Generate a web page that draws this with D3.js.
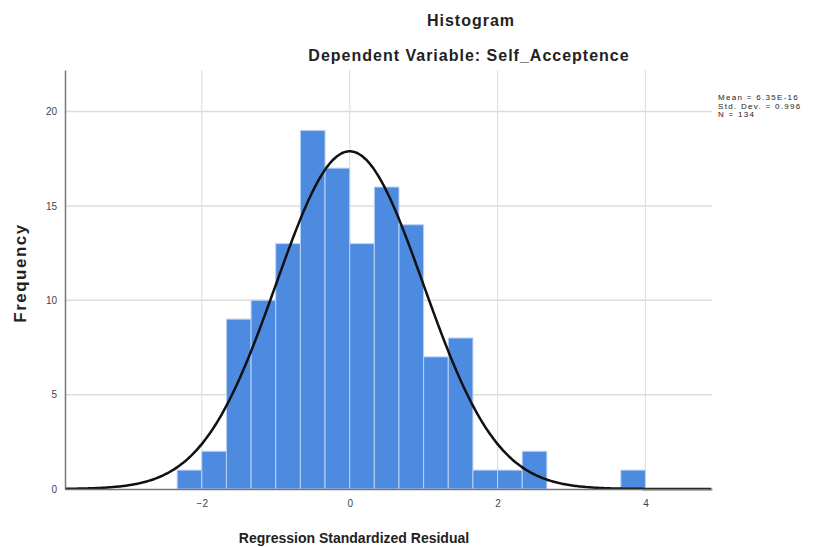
<!DOCTYPE html>
<html lang="en">
<head>
    <meta charset="UTF-8">
    <title>Histogram</title>
    <style>
        body{ margin: 0; background: #fff; }
        svg{ display: block; }
        text{ font-family: "Liberation Sans", Arial, sans-serif; fill: #222; }
        .tick text{ font-size: 10px; fill: #444; }
    </style>
    <script src="https://cdn.jsdelivr.net/npm/d3@7"></script>
</head>
<body>
<script>
    // histogram data: bin start (lower edge), bin width 1/3
    const binWidth = 1 / 3
    const binStarts = [-7, -6, -5, -4, -3, -2, -1, 0, 1, 2, 3, 4, 5, 6, 7, 8, 9, 10, 11].map(k => k / 3)
    const frequencies = [1, 2, 9, 10, 13, 19, 17, 13, 16, 14, 7, 8, 1, 1, 2, 0, 0, 0, 1]
    const xTicks = [-2, 0, 2, 4]
    const yTicks = [0, 5, 10, 15, 20]
    const stats = ["Mean = 6.35E-16", "Std. Dev. = 0.996", "N = 134"]
    const mean = 0, sd = 0.996, n = 134

    const width = 817
    const height = 547
    const svg = d3.select("body").append("svg")
        .attr("width", width).attr("height", height)

    const x = d3.scaleLinear().domain([-3.85, 4.9]).range([65, 712])
    const y = d3.scaleLinear().domain([0, 22.2]).range([489, 70])

    // grid lines
    svg.append("g").selectAll("line")
        .data(yTicks.filter(d => d > 0))
        .join("line")
        .attr("x1", x.range()[0]).attr("x2", x.range()[1])
        .attr("y1", d => y(d)).attr("y2", d => y(d))
        .attr("stroke", "#dcdcdc").attr("stroke-width", 1.5)
    svg.append("g").selectAll("line")
        .data(xTicks)
        .join("line")
        .attr("x1", d => x(d)).attr("x2", d => x(d))
        .attr("y1", y.range()[1]).attr("y2", y.range()[0])
        .attr("stroke", "#e0e0e0").attr("stroke-width", 1.2)

    // bars
    const bins = binStarts.map((s, i) => ({x0: s, x1: s + binWidth, f: frequencies[i]}))
    svg.append("g").selectAll("rect")
        .data(bins.filter(d => d.f > 0))
        .join("rect")
        .attr("x", d => x(d.x0))
        .attr("width", d => x(d.x1) - x(d.x0))
        .attr("y", d => y(d.f))
        .attr("height", d => y(0) - y(d.f))
        .attr("fill", "#4d8be0")
        .attr("stroke", "#b9d3f5").attr("stroke-width", 1)

    // normal curve
    const curvePts = d3.range(x.domain()[0], x.domain()[1] + 0.001, 0.02)
    const pdf = v => n * binWidth * Math.exp(-0.5 * ((v - mean) / sd) ** 2) / (sd * Math.sqrt(2 * Math.PI))
    svg.append("path")
        .datum(curvePts)
        .attr("fill", "none").attr("stroke", "#111").attr("stroke-width", 2.5)
        .attr("d", d3.line().x(d => x(d)).y(d => y(pdf(d))).curve(d3.curveBasis))

    // axes
    const xAxis = svg.append("g").attr("transform", `translate(0,${y(0)})`)
        .call(d3.axisBottom(x).tickValues(xTicks).tickSize(0).tickPadding(11).tickFormat(d3.format("d")))
    const yAxis = svg.append("g").attr("transform", `translate(${x.range()[0]},0)`)
        .call(d3.axisLeft(y).tickValues(yTicks).tickSize(0).tickPadding(8))
    xAxis.select(".domain").attr("stroke", "#777").attr("stroke-width", 1.5)
    yAxis.select(".domain").attr("stroke", "#777").attr("stroke-width", 1.5)

    // titles
    svg.append("text").attr("x", 471).attr("y", 26)
        .attr("text-anchor", "middle").attr("font-size", 16).attr("font-weight", "bold")
        .attr("letter-spacing", 1)
        .text("Histogram")
    svg.append("text").attr("x", 469).attr("y", 61)
        .attr("text-anchor", "middle").attr("font-size", 16).attr("font-weight", "bold")
        .attr("letter-spacing", 1)
        .text("Dependent Variable: Self_Acceptence")
    svg.append("text").attr("x", 354).attr("y", 543)
        .attr("text-anchor", "middle").attr("font-size", 14).attr("font-weight", "bold")
        .text("Regression Standardized Residual")
    svg.append("text").attr("transform", "translate(26,273) rotate(-90)")
        .attr("text-anchor", "middle").attr("font-size", 17).attr("font-weight", "bold")
        .attr("letter-spacing", 1.5)
        .text("Frequency")

    // stats box
    svg.append("g").selectAll("text")
        .data(stats)
        .join("text")
        .attr("x", 718).attr("y", (d, i) => 100 + i * 8.5)
        .attr("font-size", 8).attr("letter-spacing", 1.3).attr("fill", "#333")
        .text(d => d)
</script>
</body>
</html>
